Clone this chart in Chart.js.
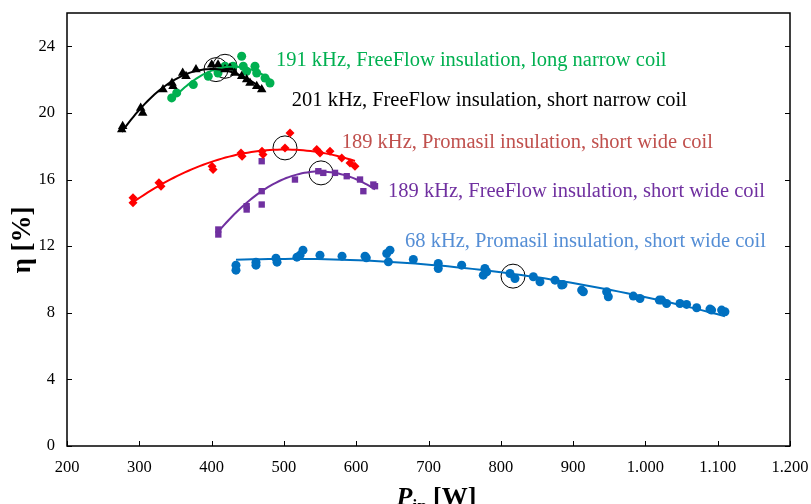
<!DOCTYPE html>
<html>
<head>
<meta charset="utf-8">
<script src="https://cdn.jsdelivr.net/npm/chart.js@4"></script>
<style>
  html, body { margin: 0; padding: 0; background: #fff; }
  #wrap { width: 811px; height: 504px; }
</style>
</head>
<body>
<div id="wrap"><canvas id="effChart" width="811" height="504"></canvas></div>
<script>
// 191 kHz, FreeFlow, long narrow coil
const greenX = [344.8, 351.7, 374.7, 395.4, 408.9, 418.5, 429.6, 441.6, 443.8, 448.5, 460, 462.4, 473.9, 480.8];
const greenY = [20.9, 21.2, 21.7, 22.2, 22.4, 22.8, 22.8, 23.4, 22.8, 22.5, 22.8, 22.4, 22.1, 21.8];

// 201 kHz, FreeFlow, short narrow coil
const blackX = [275.7, 277, 301.9, 304.7, 332.8, 345.2, 346.6, 360, 364.6, 378.4, 400.1, 408.9, 418.5, 425.4, 432, 441.6, 448.5, 453.1, 462.4, 469.3];
const blackY = [19.0, 19.2, 20.3, 20.0, 21.4, 21.8, 21.6, 22.4, 22.2, 22.6, 22.9, 22.9, 22.6, 22.7, 22.4, 22.2, 22.0, 21.8, 21.6, 21.4];

// 189 kHz, Promasil, short wide coil
const redX = [291.3, 291.3, 327.2, 330, 400.6, 402, 440.7, 442.1, 469.7, 471.1, 501.5, 508.4, 545.4, 549.9, 563.8, 580, 591.4, 598.3];
const redY = [14.9, 14.6, 15.8, 15.6, 16.8, 16.6, 17.6, 17.4, 17.7, 17.5, 17.9, 18.8, 17.8, 17.6, 17.7, 17.3, 17.0, 16.8];

// 189 kHz, FreeFlow, short wide coil
const purpleX = [409.3, 409.3, 448.5, 448.5, 469.3, 469.3, 469.3, 515.3, 547.6, 554.5, 570.7, 586.9, 605.3, 609.9, 623.7, 626];
const purpleY = [12.7, 13.0, 14.2, 14.4, 15.3, 14.5, 17.1, 16.0, 16.5, 16.4, 16.4, 16.2, 16.0, 15.3, 15.7, 15.6];

// 68 kHz, Promasil, short wide coil
const blueX = [433.7, 433.7, 461.4, 461.4, 489, 490.5, 518, 522.3, 526.4, 549.9, 580.4, 612.2, 614, 642.2, 644.5, 646.7, 679, 713.5, 713.5, 745.9, 778, 775.8, 780.5, 812.7, 819.6, 845, 854.2, 875, 884.2, 886, 911.8, 914.2, 946.4, 948.7, 983.3, 992.5, 1019.2, 1022.4, 1029.3, 1047.8, 1057, 1070.9, 1089.3, 1091.6, 1105.4, 1110];
const blueY = [10.86, 10.56, 11.04, 10.86, 11.28, 11.04, 11.34, 11.46, 11.76, 11.46, 11.4, 11.4, 11.3, 11.56, 11.06, 11.76, 11.2, 10.96, 10.66, 10.86, 10.66, 10.26, 10.46, 10.36, 10.06, 10.16, 9.86, 9.96, 9.66, 9.7, 9.36, 9.26, 9.26, 8.96, 9.0, 8.86, 8.76, 8.76, 8.56, 8.56, 8.5, 8.3, 8.22, 8.16, 8.16, 8.06];

// optimum points (open circles)
const optX = [406, 418.5, 501.5, 551.3, 816.9];
const optY = [22.6, 22.8, 17.9, 16.4, 10.2];

const seriesNames = [
  "191 kHz, FreeFlow insulation, long narrow coil",
  "201 kHz, FreeFlow insulation, short narrow coil",
  "189 kHz, Promasil insulation, short wide coil",
  "189 kHz, FreeFlow insulation, short wide coil",
  "68 kHz, Promasil insulation, short wide coil"
];
// where each name sits (left edge, vertical middle) in data units
const nameX = [489, 511, 580, 644, 667.5];
const nameY = [23.15, 20.75, 18.2, 15.25, 12.25];
const nameColors = ["#00b050", "#000000", "#c0504d", "#7030a0", "#558ed5"];

const xTickLabels = { 1000: "1.000", 1100: "1.100", 1200: "1.200" };

function toPoints(xs, ys) {
  return xs.map((x, i) => ({ x: x, y: ys[i] }));
}

// least squares polynomial trend, like a spreadsheet trendline
function polyTrend(xs, ys, order, steps) {
  const mean = xs.reduce((a, b) => a + b, 0) / xs.length;
  const sc = 100;
  const n = order + 1;
  const A = [];
  for (let r = 0; r < n; r++) { A.push(new Array(n + 1).fill(0)); }
  xs.forEach((x, k) => {
    const u = (x - mean) / sc;
    for (let r = 0; r < n; r++) {
      for (let c = 0; c < n; c++) A[r][c] += Math.pow(u, r + c);
      A[r][n] += ys[k] * Math.pow(u, r);
    }
  });
  for (let i = 0; i < n; i++) {
    let p = i;
    for (let r = i + 1; r < n; r++) if (Math.abs(A[r][i]) > Math.abs(A[p][i])) p = r;
    [A[i], A[p]] = [A[p], A[i]];
    for (let r = 0; r < n; r++) {
      if (r === i) continue;
      const f = A[r][i] / A[i][i];
      for (let c = i; c <= n; c++) A[r][c] -= f * A[i][c];
    }
  }
  const coef = A.map((row, i) => row[n] / row[i]);
  const lo = Math.min(...xs), hi = Math.max(...xs);
  const pts = [];
  for (let s = 0; s <= steps; s++) {
    const x = lo + (hi - lo) * s / steps;
    const u = (x - mean) / sc;
    let y = 0;
    coef.forEach((c, i) => { y += c * Math.pow(u, i); });
    pts.push({ x: x, y: y });
  }
  return pts;
}

function trendSet(xs, ys, color, order) {
  return {
    type: 'line',
    data: polyTrend(xs, ys, order, 60),
    borderColor: color,
    borderWidth: 2,
    pointRadius: 0,
    fill: false,
    tension: 0
  };
}

function markSet(xs, ys, color, style, r) {
  return {
    data: toPoints(xs, ys),
    backgroundColor: color,
    borderColor: color,
    pointStyle: style,
    pointRadius: r,
    borderWidth: 0
  };
}

// frame, inward ticks, series names and axis titles
const decorations = {
  id: 'decorations',
  afterDraw(chart) {
    const ctx = chart.ctx;
    const a = chart.chartArea;
    const xs = chart.scales.x, ys = chart.scales.y;
    ctx.save();
    ctx.strokeStyle = '#000';
    ctx.lineWidth = 1.5;
    ctx.strokeRect(a.left, a.top, a.right - a.left, a.bottom - a.top);
    ctx.lineWidth = 1;
    xs.ticks.forEach(t => {
      const px = Math.round(xs.getPixelForValue(t.value)) + 0.5;
      ctx.beginPath();
      ctx.moveTo(px, a.bottom); ctx.lineTo(px, a.bottom - 5);
      ctx.stroke();
    });
    ys.ticks.forEach(t => {
      const py = Math.round(ys.getPixelForValue(t.value)) + 0.5;
      ctx.beginPath();
      ctx.moveTo(a.left, py); ctx.lineTo(a.left + 5, py);
      ctx.moveTo(a.right, py); ctx.lineTo(a.right - 5, py);
      ctx.stroke();
    });

    ctx.font = '20.5px "Liberation Serif", "Times New Roman", serif';
    ctx.textBaseline = 'middle';
    ctx.textAlign = 'left';
    seriesNames.forEach((name, i) => {
      ctx.fillStyle = nameColors[i];
      ctx.fillText(name, xs.getPixelForValue(nameX[i]), ys.getPixelForValue(nameY[i]));
    });

    // y title
    ctx.fillStyle = '#000';
    ctx.save();
    ctx.translate(23, 240);
    ctx.rotate(-Math.PI / 2);
    ctx.textAlign = 'center';
    ctx.font = 'bold 27px "Liberation Serif", serif';
    ctx.fillText('η [%]', 0, 0);
    ctx.restore();

    // x title: P with subscript "in"
    const base = 505;
    const partP = 'P', partSub = 'in', partRest = ' [W]';
    ctx.textBaseline = 'alphabetic';
    ctx.font = 'bold italic 26px "Liberation Serif", serif';
    const wP = ctx.measureText(partP).width;
    ctx.font = 'bold 17px "Liberation Serif", serif';
    const wS = ctx.measureText(partSub).width;
    ctx.font = 'bold 26px "Liberation Serif", serif';
    const wR = ctx.measureText(partRest).width;
    let x0 = (a.left + a.right) / 2 + 8 - (wP + wS + wR) / 2;
    ctx.textAlign = 'left';
    ctx.font = 'bold italic 26px "Liberation Serif", serif';
    ctx.fillText(partP, x0, base);
    x0 += wP;
    ctx.font = 'bold 17px "Liberation Serif", serif';
    ctx.fillText(partSub, x0, base + 6);
    x0 += wS;
    ctx.font = 'bold 26px "Liberation Serif", serif';
    ctx.fillText(partRest, x0, base);
    ctx.restore();
  }
};

const tickFont = { family: '"Liberation Serif", "Times New Roman", serif', size: 16.5 };

new Chart(document.getElementById('effChart'), {
  type: 'scatter',
  data: {
    datasets: [
      trendSet(blackX, blackY, '#000000', 2),
      trendSet(greenX, greenY, '#00b050', 2),
      trendSet(redX, redY, '#ff0000', 2),
      trendSet(purpleX, purpleY, '#7030a0', 2),
      trendSet(blueX, blueY, '#0070c0', 2),
      markSet(blackX, blackY, '#000000', 'triangle', 5.5),
      markSet(greenX, greenY, '#00b050', 'circle', 4.5),
      markSet(redX, redY, '#ff0000', 'rectRot', 4.5),
      markSet(purpleX, purpleY, '#7030a0', 'rect', 4.5),
      markSet(blueX, blueY, '#0070c0', 'circle', 4.5),
      {
        data: toPoints(optX, optY),
        pointStyle: 'circle',
        pointRadius: 12,
        backgroundColor: 'rgba(0,0,0,0)',
        borderColor: '#000',
        borderWidth: 1
      }
    ]
  },
  options: {
    responsive: false,
    animation: false,
    layout: { padding: { top: 13, right: 21, left: 0, bottom: 0 } },
    plugins: { legend: { display: false }, tooltip: { enabled: false } },
    scales: {
      x: {
        type: 'linear',
        min: 200, max: 1200,
        grid: { display: false, drawTicks: false },
        border: { display: false },
        ticks: {
          stepSize: 100,
          padding: 12,
          color: '#000',
          font: tickFont,
          maxRotation: 0,
          callback: v => xTickLabels[v] || String(v)
        },
        afterFit: s => { s.height = 58; s.paddingLeft = 0; s.paddingRight = 0; }
      },
      y: {
        min: 0, max: 26,
        grid: { display: false, drawTicks: false },
        border: { display: false },
        ticks: { stepSize: 4, padding: 12, color: '#000', font: tickFont },
        afterBuildTicks: s => { s.ticks = s.ticks.filter(t => t.value % 4 === 0); },
        afterFit: s => { s.width = 67; s.paddingTop = 0; s.paddingBottom = 0; }
      }
    }
  },
  plugins: [decorations]
});
</script>
</body>
</html>
